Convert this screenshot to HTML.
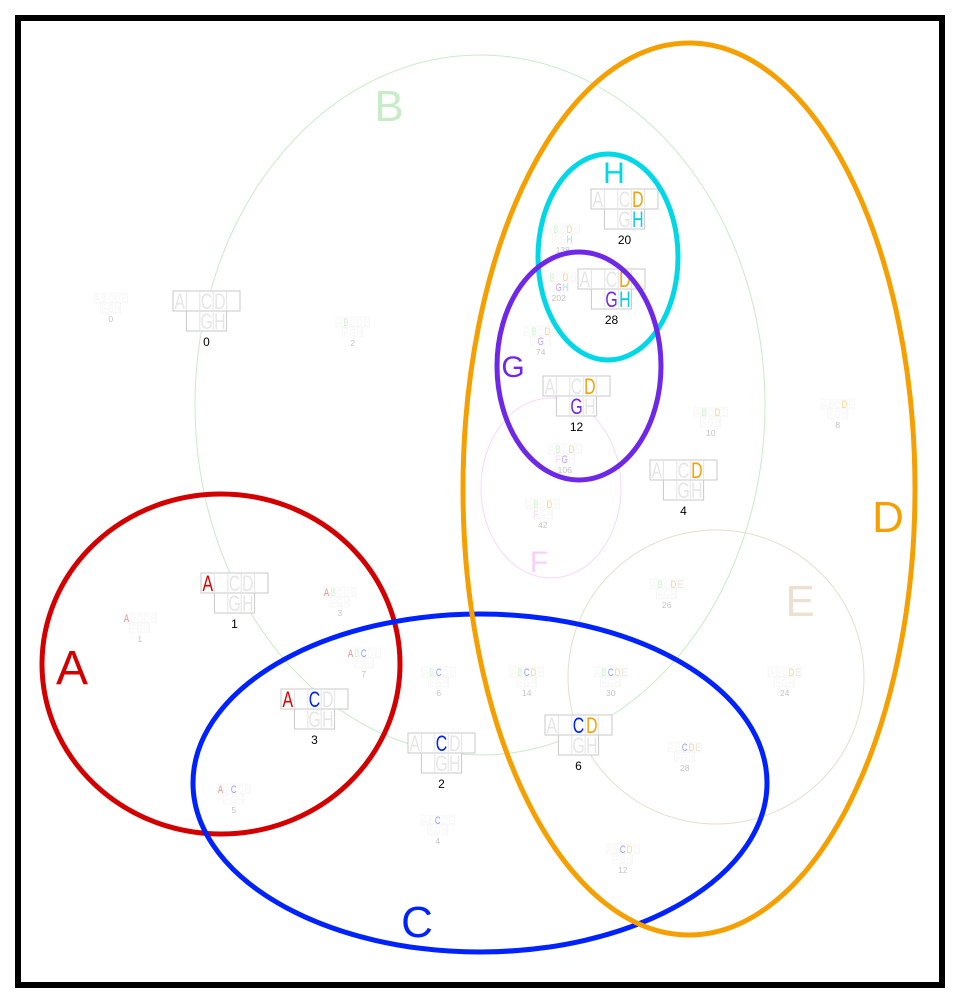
<!DOCTYPE html>
<html><head><meta charset="utf-8"><style>
html,body{margin:0;padding:0;background:#fff;}
svg{display:block;font-family:"Liberation Sans",sans-serif;}
.bg rect{fill:#fff;stroke:#c8c8c8;stroke-width:1;}
.bg line{stroke:#e4e4e4;stroke-width:1;}
.bl{font-size:22px;text-anchor:middle;fill:#e6e6e6;transform-box:fill-box;transform-origin:center;transform:scaleX(0.72);}
.num{font-size:12px;text-anchor:middle;fill:#000;}
.sm{opacity:0.45;}
.sm rect{fill:#fafafa;stroke:#e0e0e0;}
.sm .bl{fill:#f0f0f0;}
.sm .num{fill:#777;font-size:17px;}
.cA{fill:#d40000!important}.cB{fill:#99e699!important}.cC{fill:#0022ff!important}.cD{fill:#f5a000!important}
.cE{fill:#d8c4a8!important}.cF{fill:#f0a8f0!important}.cG{fill:#7028e8!important}.cH{fill:#00d0e0!important}
</style></head><body>
<svg width="960" height="1004" viewBox="0 0 960 1004" xmlns="http://www.w3.org/2000/svg">
<rect x="18" y="18" width="924" height="967" fill="#fff" stroke="#000" stroke-width="6"/>
<ellipse cx="480" cy="405" rx="285" ry="350" fill="none" stroke="#c8ecc8" stroke-width="1"/>
<ellipse cx="551" cy="488" rx="70" ry="90" fill="none" stroke="#f8d8f8" stroke-width="1"/>
<ellipse cx="716" cy="677" rx="148" ry="147" fill="none" stroke="#e8dccc" stroke-width="1"/>
<text x="389" y="121" font-size="44" text-anchor="middle" fill="#c8ecc8">B</text>
<text x="800" y="616" font-size="44" text-anchor="middle" fill="#ece0d0">E</text>
<text x="539" y="572" font-size="30" text-anchor="middle" fill="#f8d0f8">F</text>

<g class="sm">
<g transform="translate(94,293) scale(0.5)"><g class="bg"><rect width="67" height="20"/><rect x="13.4" y="20" width="40.2" height="20"/></g><text class="bl" x="6.7" y="18">A</text><text class="bl" x="20.1" y="18">B</text><text class="bl" x="33.5" y="18">C</text><text class="bl" x="46.9" y="18">D</text><text class="bl" x="60.3" y="18">E</text><text class="bl" x="20.1" y="38">F</text><text class="bl" x="33.5" y="38">G</text><text class="bl" x="46.9" y="38">H</text><text class="num" x="33.5" y="58">0</text></g>
<g transform="translate(336,317) scale(0.5)"><g class="bg"><rect width="67" height="20"/><rect x="13.4" y="20" width="40.2" height="20"/></g><text class="bl" x="6.7" y="18">A</text><text class="bl cB" x="20.1" y="18">B</text><text class="bl" x="33.5" y="18">C</text><text class="bl" x="46.9" y="18">D</text><text class="bl" x="60.3" y="18">E</text><text class="bl" x="20.1" y="38">F</text><text class="bl" x="33.5" y="38">G</text><text class="bl" x="46.9" y="38">H</text><text class="num" x="33.5" y="58">2</text></g>
<g transform="translate(546,224) scale(0.5)"><g class="bg"><rect width="67" height="20"/><rect x="13.4" y="20" width="40.2" height="20"/></g><text class="bl" x="6.7" y="18">A</text><text class="bl cB" x="20.1" y="18">B</text><text class="bl" x="33.5" y="18">C</text><text class="bl cD" x="46.9" y="18">D</text><text class="bl" x="60.3" y="18">E</text><text class="bl" x="20.1" y="38">F</text><text class="bl" x="33.5" y="38">G</text><text class="bl cH" x="46.9" y="38">H</text><text class="num" x="33.5" y="58">138</text></g>
<g transform="translate(542,272) scale(0.5)"><g class="bg"><rect width="67" height="20"/><rect x="13.4" y="20" width="40.2" height="20"/></g><text class="bl" x="6.7" y="18">A</text><text class="bl cB" x="20.1" y="18">B</text><text class="bl" x="33.5" y="18">C</text><text class="bl cD" x="46.9" y="18">D</text><text class="bl" x="60.3" y="18">E</text><text class="bl" x="20.1" y="38">F</text><text class="bl cG" x="33.5" y="38">G</text><text class="bl cH" x="46.9" y="38">H</text><text class="num" x="33.5" y="58">202</text></g>
<g transform="translate(524,326) scale(0.5)"><g class="bg"><rect width="67" height="20"/><rect x="13.4" y="20" width="40.2" height="20"/></g><text class="bl" x="6.7" y="18">A</text><text class="bl cB" x="20.1" y="18">B</text><text class="bl" x="33.5" y="18">C</text><text class="bl cD" x="46.9" y="18">D</text><text class="bl" x="60.3" y="18">E</text><text class="bl" x="20.1" y="38">F</text><text class="bl cG" x="33.5" y="38">G</text><text class="bl" x="46.9" y="38">H</text><text class="num" x="33.5" y="58">74</text></g>
<g transform="translate(694,407) scale(0.5)"><g class="bg"><rect width="67" height="20"/><rect x="13.4" y="20" width="40.2" height="20"/></g><text class="bl" x="6.7" y="18">A</text><text class="bl cB" x="20.1" y="18">B</text><text class="bl" x="33.5" y="18">C</text><text class="bl cD" x="46.9" y="18">D</text><text class="bl" x="60.3" y="18">E</text><text class="bl" x="20.1" y="38">F</text><text class="bl" x="33.5" y="38">G</text><text class="bl" x="46.9" y="38">H</text><text class="num" x="33.5" y="58">10</text></g>
<g transform="translate(821,399) scale(0.5)"><g class="bg"><rect width="67" height="20"/><rect x="13.4" y="20" width="40.2" height="20"/></g><text class="bl" x="6.7" y="18">A</text><text class="bl" x="20.1" y="18">B</text><text class="bl" x="33.5" y="18">C</text><text class="bl cD" x="46.9" y="18">D</text><text class="bl" x="60.3" y="18">E</text><text class="bl" x="20.1" y="38">F</text><text class="bl" x="33.5" y="38">G</text><text class="bl" x="46.9" y="38">H</text><text class="num" x="33.5" y="58">8</text></g>
<g transform="translate(548,444) scale(0.5)"><g class="bg"><rect width="67" height="20"/><rect x="13.4" y="20" width="40.2" height="20"/></g><text class="bl" x="6.7" y="18">A</text><text class="bl cB" x="20.1" y="18">B</text><text class="bl" x="33.5" y="18">C</text><text class="bl cD" x="46.9" y="18">D</text><text class="bl" x="60.3" y="18">E</text><text class="bl cF" x="20.1" y="38">F</text><text class="bl cG" x="33.5" y="38">G</text><text class="bl" x="46.9" y="38">H</text><text class="num" x="33.5" y="58">106</text></g>
<g transform="translate(526,499) scale(0.5)"><g class="bg"><rect width="67" height="20"/><rect x="13.4" y="20" width="40.2" height="20"/></g><text class="bl" x="6.7" y="18">A</text><text class="bl cB" x="20.1" y="18">B</text><text class="bl" x="33.5" y="18">C</text><text class="bl cD" x="46.9" y="18">D</text><text class="bl" x="60.3" y="18">E</text><text class="bl cF" x="20.1" y="38">F</text><text class="bl" x="33.5" y="38">G</text><text class="bl" x="46.9" y="38">H</text><text class="num" x="33.5" y="58">42</text></g>
<g transform="translate(650,579) scale(0.5)"><g class="bg"><rect width="67" height="20"/><rect x="13.4" y="20" width="40.2" height="20"/></g><text class="bl" x="6.7" y="18">A</text><text class="bl cB" x="20.1" y="18">B</text><text class="bl" x="33.5" y="18">C</text><text class="bl cD" x="46.9" y="18">D</text><text class="bl cE" x="60.3" y="18">E</text><text class="bl" x="20.1" y="38">F</text><text class="bl" x="33.5" y="38">G</text><text class="bl" x="46.9" y="38">H</text><text class="num" x="33.5" y="58">26</text></g>
<g transform="translate(123,613) scale(0.5)"><g class="bg"><rect width="67" height="20"/><rect x="13.4" y="20" width="40.2" height="20"/></g><text class="bl cA" x="6.7" y="18">A</text><text class="bl" x="20.1" y="18">B</text><text class="bl" x="33.5" y="18">C</text><text class="bl" x="46.9" y="18">D</text><text class="bl" x="60.3" y="18">E</text><text class="bl" x="20.1" y="38">F</text><text class="bl" x="33.5" y="38">G</text><text class="bl" x="46.9" y="38">H</text><text class="num" x="33.5" y="58">1</text></g>
<g transform="translate(323,587) scale(0.5)"><g class="bg"><rect width="67" height="20"/><rect x="13.4" y="20" width="40.2" height="20"/></g><text class="bl cA" x="6.7" y="18">A</text><text class="bl cB" x="20.1" y="18">B</text><text class="bl" x="33.5" y="18">C</text><text class="bl" x="46.9" y="18">D</text><text class="bl" x="60.3" y="18">E</text><text class="bl" x="20.1" y="38">F</text><text class="bl" x="33.5" y="38">G</text><text class="bl" x="46.9" y="38">H</text><text class="num" x="33.5" y="58">3</text></g>
<g transform="translate(347,648) scale(0.5)"><g class="bg"><rect width="67" height="20"/><rect x="13.4" y="20" width="40.2" height="20"/></g><text class="bl cA" x="6.7" y="18">A</text><text class="bl cB" x="20.1" y="18">B</text><text class="bl cC" x="33.5" y="18">C</text><text class="bl" x="46.9" y="18">D</text><text class="bl" x="60.3" y="18">E</text><text class="bl" x="20.1" y="38">F</text><text class="bl" x="33.5" y="38">G</text><text class="bl" x="46.9" y="38">H</text><text class="num" x="33.5" y="58">7</text></g>
<g transform="translate(422,667) scale(0.5)"><g class="bg"><rect width="67" height="20"/><rect x="13.4" y="20" width="40.2" height="20"/></g><text class="bl" x="6.7" y="18">A</text><text class="bl cB" x="20.1" y="18">B</text><text class="bl cC" x="33.5" y="18">C</text><text class="bl" x="46.9" y="18">D</text><text class="bl" x="60.3" y="18">E</text><text class="bl" x="20.1" y="38">F</text><text class="bl" x="33.5" y="38">G</text><text class="bl" x="46.9" y="38">H</text><text class="num" x="33.5" y="58">6</text></g>
<g transform="translate(510,667) scale(0.5)"><g class="bg"><rect width="67" height="20"/><rect x="13.4" y="20" width="40.2" height="20"/></g><text class="bl" x="6.7" y="18">A</text><text class="bl cB" x="20.1" y="18">B</text><text class="bl cC" x="33.5" y="18">C</text><text class="bl cD" x="46.9" y="18">D</text><text class="bl" x="60.3" y="18">E</text><text class="bl" x="20.1" y="38">F</text><text class="bl" x="33.5" y="38">G</text><text class="bl" x="46.9" y="38">H</text><text class="num" x="33.5" y="58">14</text></g>
<g transform="translate(594,667) scale(0.5)"><g class="bg"><rect width="67" height="20"/><rect x="13.4" y="20" width="40.2" height="20"/></g><text class="bl" x="6.7" y="18">A</text><text class="bl cB" x="20.1" y="18">B</text><text class="bl cC" x="33.5" y="18">C</text><text class="bl cD" x="46.9" y="18">D</text><text class="bl cE" x="60.3" y="18">E</text><text class="bl" x="20.1" y="38">F</text><text class="bl" x="33.5" y="38">G</text><text class="bl" x="46.9" y="38">H</text><text class="num" x="33.5" y="58">30</text></g>
<g transform="translate(768,667) scale(0.5)"><g class="bg"><rect width="67" height="20"/><rect x="13.4" y="20" width="40.2" height="20"/></g><text class="bl" x="6.7" y="18">A</text><text class="bl" x="20.1" y="18">B</text><text class="bl" x="33.5" y="18">C</text><text class="bl cD" x="46.9" y="18">D</text><text class="bl cE" x="60.3" y="18">E</text><text class="bl" x="20.1" y="38">F</text><text class="bl" x="33.5" y="38">G</text><text class="bl" x="46.9" y="38">H</text><text class="num" x="33.5" y="58">24</text></g>
<g transform="translate(668,742) scale(0.5)"><g class="bg"><rect width="67" height="20"/><rect x="13.4" y="20" width="40.2" height="20"/></g><text class="bl" x="6.7" y="18">A</text><text class="bl" x="20.1" y="18">B</text><text class="bl cC" x="33.5" y="18">C</text><text class="bl cD" x="46.9" y="18">D</text><text class="bl cE" x="60.3" y="18">E</text><text class="bl" x="20.1" y="38">F</text><text class="bl" x="33.5" y="38">G</text><text class="bl" x="46.9" y="38">H</text><text class="num" x="33.5" y="58">28</text></g>
<g transform="translate(217,784) scale(0.5)"><g class="bg"><rect width="67" height="20"/><rect x="13.4" y="20" width="40.2" height="20"/></g><text class="bl cA" x="6.7" y="18">A</text><text class="bl" x="20.1" y="18">B</text><text class="bl cC" x="33.5" y="18">C</text><text class="bl" x="46.9" y="18">D</text><text class="bl" x="60.3" y="18">E</text><text class="bl" x="20.1" y="38">F</text><text class="bl" x="33.5" y="38">G</text><text class="bl" x="46.9" y="38">H</text><text class="num" x="33.5" y="58">5</text></g>
<g transform="translate(421,815) scale(0.5)"><g class="bg"><rect width="67" height="20"/><rect x="13.4" y="20" width="40.2" height="20"/></g><text class="bl" x="6.7" y="18">A</text><text class="bl" x="20.1" y="18">B</text><text class="bl cC" x="33.5" y="18">C</text><text class="bl" x="46.9" y="18">D</text><text class="bl" x="60.3" y="18">E</text><text class="bl" x="20.1" y="38">F</text><text class="bl" x="33.5" y="38">G</text><text class="bl" x="46.9" y="38">H</text><text class="num" x="33.5" y="58">4</text></g>
<g transform="translate(606,844) scale(0.5)"><g class="bg"><rect width="67" height="20"/><rect x="13.4" y="20" width="40.2" height="20"/></g><text class="bl" x="6.7" y="18">A</text><text class="bl" x="20.1" y="18">B</text><text class="bl cC" x="33.5" y="18">C</text><text class="bl cD" x="46.9" y="18">D</text><text class="bl" x="60.3" y="18">E</text><text class="bl" x="20.1" y="38">F</text><text class="bl" x="33.5" y="38">G</text><text class="bl" x="46.9" y="38">H</text><text class="num" x="33.5" y="58">12</text></g>
</g>

<g transform="translate(173,291)"><g class="bg"><rect width="67" height="20"/><rect x="13.4" y="20" width="40.2" height="20"/><line x1="13.4" y1="0" x2="13.4" y2="20"/><line x1="26.8" y1="0" x2="26.8" y2="40"/><line x1="40.2" y1="0" x2="40.2" y2="40"/><line x1="53.6" y1="0" x2="53.6" y2="20"/></g><text class="bl" x="6.7" y="18">A</text><text class="bl" x="33.5" y="18">C</text><text class="bl" x="46.9" y="18">D</text><text class="bl" x="33.5" y="38">G</text><text class="bl" x="46.9" y="38">H</text><text class="num" x="33.5" y="55">0</text></g>
<g transform="translate(591,189)"><g class="bg"><rect width="67" height="20"/><rect x="13.4" y="20" width="40.2" height="20"/><line x1="13.4" y1="0" x2="13.4" y2="20"/><line x1="26.8" y1="0" x2="26.8" y2="40"/><line x1="40.2" y1="0" x2="40.2" y2="40"/><line x1="53.6" y1="0" x2="53.6" y2="20"/></g><text class="bl" x="6.7" y="18">A</text><text class="bl" x="33.5" y="18">C</text><text class="bl cD" x="46.9" y="18">D</text><text class="bl" x="33.5" y="38">G</text><text class="bl cH" x="46.9" y="38">H</text><text class="num" x="33.5" y="55">20</text></g>
<g transform="translate(578,269)"><g class="bg"><rect width="67" height="20"/><rect x="13.4" y="20" width="40.2" height="20"/><line x1="13.4" y1="0" x2="13.4" y2="20"/><line x1="26.8" y1="0" x2="26.8" y2="40"/><line x1="40.2" y1="0" x2="40.2" y2="40"/><line x1="53.6" y1="0" x2="53.6" y2="20"/></g><text class="bl" x="6.7" y="18">A</text><text class="bl" x="33.5" y="18">C</text><text class="bl cD" x="46.9" y="18">D</text><text class="bl cG" x="33.5" y="38">G</text><text class="bl cH" x="46.9" y="38">H</text><text class="num" x="33.5" y="55">28</text></g>
<g transform="translate(543,376)"><g class="bg"><rect width="67" height="20"/><rect x="13.4" y="20" width="40.2" height="20"/><line x1="13.4" y1="0" x2="13.4" y2="20"/><line x1="26.8" y1="0" x2="26.8" y2="40"/><line x1="40.2" y1="0" x2="40.2" y2="40"/><line x1="53.6" y1="0" x2="53.6" y2="20"/></g><text class="bl" x="6.7" y="18">A</text><text class="bl" x="33.5" y="18">C</text><text class="bl cD" x="46.9" y="18">D</text><text class="bl cG" x="33.5" y="38">G</text><text class="bl" x="46.9" y="38">H</text><text class="num" x="33.5" y="55">12</text></g>
<g transform="translate(650,460)"><g class="bg"><rect width="67" height="20"/><rect x="13.4" y="20" width="40.2" height="20"/><line x1="13.4" y1="0" x2="13.4" y2="20"/><line x1="26.8" y1="0" x2="26.8" y2="40"/><line x1="40.2" y1="0" x2="40.2" y2="40"/><line x1="53.6" y1="0" x2="53.6" y2="20"/></g><text class="bl" x="6.7" y="18">A</text><text class="bl" x="33.5" y="18">C</text><text class="bl cD" x="46.9" y="18">D</text><text class="bl" x="33.5" y="38">G</text><text class="bl" x="46.9" y="38">H</text><text class="num" x="33.5" y="55">4</text></g>
<g transform="translate(201,573)"><g class="bg"><rect width="67" height="20"/><rect x="13.4" y="20" width="40.2" height="20"/><line x1="13.4" y1="0" x2="13.4" y2="20"/><line x1="26.8" y1="0" x2="26.8" y2="40"/><line x1="40.2" y1="0" x2="40.2" y2="40"/><line x1="53.6" y1="0" x2="53.6" y2="20"/></g><text class="bl cA" x="6.7" y="18">A</text><text class="bl" x="33.5" y="18">C</text><text class="bl" x="46.9" y="18">D</text><text class="bl" x="33.5" y="38">G</text><text class="bl" x="46.9" y="38">H</text><text class="num" x="33.5" y="55">1</text></g>
<g transform="translate(281,689)"><g class="bg"><rect width="67" height="20"/><rect x="13.4" y="20" width="40.2" height="20"/><line x1="13.4" y1="0" x2="13.4" y2="20"/><line x1="26.8" y1="0" x2="26.8" y2="40"/><line x1="40.2" y1="0" x2="40.2" y2="40"/><line x1="53.6" y1="0" x2="53.6" y2="20"/></g><text class="bl cA" x="6.7" y="18">A</text><text class="bl cC" x="33.5" y="18">C</text><text class="bl" x="46.9" y="18">D</text><text class="bl" x="33.5" y="38">G</text><text class="bl" x="46.9" y="38">H</text><text class="num" x="33.5" y="55">3</text></g>
<g transform="translate(408,733)"><g class="bg"><rect width="67" height="20"/><rect x="13.4" y="20" width="40.2" height="20"/><line x1="13.4" y1="0" x2="13.4" y2="20"/><line x1="26.8" y1="0" x2="26.8" y2="40"/><line x1="40.2" y1="0" x2="40.2" y2="40"/><line x1="53.6" y1="0" x2="53.6" y2="20"/></g><text class="bl" x="6.7" y="18">A</text><text class="bl cC" x="33.5" y="18">C</text><text class="bl" x="46.9" y="18">D</text><text class="bl" x="33.5" y="38">G</text><text class="bl" x="46.9" y="38">H</text><text class="num" x="33.5" y="55">2</text></g>
<g transform="translate(545,715)"><g class="bg"><rect width="67" height="20"/><rect x="13.4" y="20" width="40.2" height="20"/><line x1="13.4" y1="0" x2="13.4" y2="20"/><line x1="26.8" y1="0" x2="26.8" y2="40"/><line x1="40.2" y1="0" x2="40.2" y2="40"/><line x1="53.6" y1="0" x2="53.6" y2="20"/></g><text class="bl" x="6.7" y="18">A</text><text class="bl cC" x="33.5" y="18">C</text><text class="bl cD" x="46.9" y="18">D</text><text class="bl" x="33.5" y="38">G</text><text class="bl" x="46.9" y="38">H</text><text class="num" x="33.5" y="55">6</text></g>

<ellipse cx="221" cy="664" rx="179" ry="170" fill="none" stroke="#d40000" stroke-width="5"/>
<ellipse cx="480" cy="783" rx="287" ry="169" fill="none" stroke="#0022ff" stroke-width="5"/>
<ellipse cx="689" cy="489" rx="226" ry="446" fill="none" stroke="#f5a000" stroke-width="5"/>
<ellipse cx="608" cy="257" rx="70" ry="103" fill="none" stroke="#00d8e8" stroke-width="5"/>
<ellipse cx="579" cy="366" rx="82" ry="114" fill="none" stroke="#7028e8" stroke-width="5"/>

<text x="72" y="684" font-size="48" text-anchor="middle" fill="#d40000">A</text>
<text x="417" y="937" font-size="44" text-anchor="middle" fill="#0022ff">C</text>
<text x="888" y="532" font-size="44" text-anchor="middle" fill="#f5a000">D</text>
<text x="513" y="377" font-size="30" text-anchor="middle" fill="#7028e8">G</text>
<text x="614" y="183" font-size="30" text-anchor="middle" fill="#00d8e8">H</text>
</svg>
</body></html>
